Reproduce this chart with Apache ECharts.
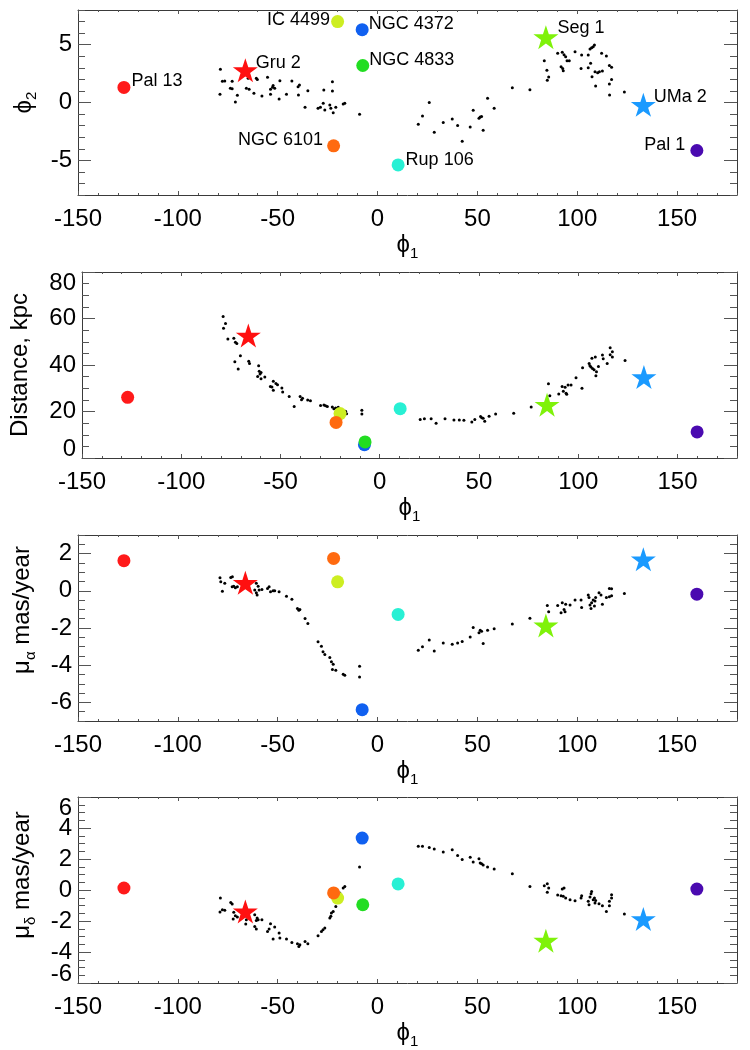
<!DOCTYPE html>
<html><head><meta charset="utf-8">
<script src="https://cdn.jsdelivr.net/npm/echarts@6/dist/echarts.min.js"></script>
<style>html,body{margin:0;padding:0;background:#fff}#c{width:750px;height:1050px}</style>
</head><body><div id="c"></div>
<script>
// ---------------- DATA ----------------
const xTickValues = [-150, -100, -50, 0, 50, 100, 150];
const yTickValuesPhi2 = [-5, 0, 5];
const yTickValuesDist = [0, 20, 40, 60, 80];
const yTickValuesPmra = [-6, -4, -2, 0, 2];
const yTickValuesPmdec = [-6, -4, -2, 0, 2, 4, 6];

// objects (draw order)
const objectNames = ['Pal 13', 'Gru 2', 'IC 4499', 'NGC 6101', 'NGC 4372', 'NGC 4833', 'Rup 106', 'Seg 1', 'UMa 2', 'Pal 1'];
const objectIsDwarf = [false, true, false, false, false, false, false, true, true, false];
const objectPhi1 = [-127.0, -66.2, -20.0, -22.0, -7.7, -7.4, 10.3, 84.3, 133.1, 159.9];
const objectPhi2 = [1.3, 2.8, 7.0, -3.75, 6.3, 3.2, -5.4, 5.65, -0.2, -4.15];
const objectDist = [26.1, 52.7, 19.1, 15.3, 5.7, 6.9, 21.2, 22.9, 34.8, 11.2];
const objectPmra = [1.62, 0.43, 0.48, 1.74, -6.39, null, -1.27, -1.86, 1.69, -0.18];
const objectPmdec = [0.13, -1.38, -0.52, -0.19, 3.35, -0.95, 0.39, -3.27, -1.87, 0.06];

// stream members [phi1, value]
const streamPhi2 = [
[-78.7,2.87],[-77.7,1.83],[-76.5,1.86],[-78.9,0.71],[-72.8,1.83],[-73.7,1.23],[-72.8,1.2],[-70.2,0.62],[-71.2,0.04],
[-65.7,1.23],[-64.8,2.09],[-60.7,2.09],[-60.2,2.0],[-64.3,1.14],[-61.9,0.79],[-57.9,0.56],[-55.1,2.18],[-53.6,1.14],
[-53.6,0.71],[-52.3,1.48],[-51.5,1.23],[-52.6,1.31],[-48.9,1.89],[-49.3,0.3],[-45.6,0.71],[-42.9,1.86],[-39.8,1.37],
[-39.1,1.52],[-39.6,0.65],[-34.9,1.02],[-36.3,-0.42],[-29.8,-0.5],[-28.6,-0.42],[-27.2,-0.07],[-26.9,1.08],[-26.4,-0.65],
[-23.9,-0.22],[-23.4,-0.5],[-22.6,1.8],[-22.6,1.0],[-22.2,-0.88],[-20.9,-0.42],[-17.2,-0.13],[-16.4,-0.07],[-9.0,-1.02],
[20.4,-1.89],[22.5,-1.17],[25.9,0.0],[28.4,-2.58],[32.9,-1.74],[37.4,-1.43],[40.1,-1.98],[42.4,-3.36],[46.4,-2.12],
[47.9,-0.68],[50.8,-1.37],[51.4,-1.25],[52.1,-1.22],[52.9,-2.41],[55.1,0.36],[58.4,-0.5],[67.5,1.28],[76.3,1.11],
[83.5,3.62],[84.8,2.78],[85.7,2.2],[85.0,1.92],[90.2,4.25],[92.5,4.34],[93.4,4.14],[94.2,3.96],[94.9,3.62],[96.0,3.62],
[91.9,3.1],[92.7,2.95],[93.0,2.75],[98.9,4.4],[102.2,4.11],[101.9,2.93],[105.5,4.11],[105.5,3.01],[106.7,3.39],[106.4,4.63],
[107.2,4.74],[108.0,4.83],[108.6,4.97],[107.4,2.23],[108.9,2.67],[110.2,2.58],[111.1,2.67],[112.6,2.72],[112.2,4.25],
[114.6,4.02],[116.1,3.19],[117.2,3.04],[116.1,1.6],[117.2,2.0],[109.2,1.43],[116.2,0.65],[123.6,0.91]
];
const streamDist = [
[-78.9,60.9],[-77.7,57.8],[-78.7,55.8],[-76.5,51.2],[-73.5,51.5],[-72.7,49.8],[-72.0,49.2],[-70.2,44.0],[-73.0,41.4],
[-71.3,38.3],[-66.0,41.6],[-65.6,40.6],[-61.0,39.7],[-60.7,37.3],[-59.8,36.8],[-60.3,36.1],[-61.5,35.1],[-59.8,34.1],
[-57.9,34.8],[-55.1,30.8],[-54.3,30.5],[-53.6,29.1],[-53.6,33.0],[-52.3,32.0],[-51.5,31.5],[-49.3,30.1],[-48.9,28.4],
[-45.6,26.5],[-43.1,22.1],[-40.1,26.5],[-39.4,25.1],[-38.9,25.7],[-36.3,24.9],[-34.9,24.6],[-29.8,22.6],[-28.1,22.8],
[-27.3,22.5],[-26.4,22.2],[-23.9,21.9],[-23.1,21.2],[-22.2,21.5],[-21.4,20.5],[-20.9,21.8],[-17.2,20.1],[-16.7,19.0],
[-9.0,20.5],[-9.0,18.9],
[20.4,16.6],[22.5,16.9],[25.9,16.9],[28.4,14.9],[32.9,16.9],[37.4,16.3],[40.1,16.3],[42.4,16.2],[46.4,15.5],[47.9,16.6],
[50.8,17.8],[51.4,17.3],[52.1,17.1],[52.9,15.8],[55.1,18.0],[58.4,18.9],[67.5,19.3],[76.3,21.9],[85.0,31.9],[85.7,26.8],
[90.2,27.5],[91.9,30.7],[92.5,28.7],[93.4,30.4],[93.9,27.9],[94.2,27.4],[94.9,31.4],[96.4,31.4],[98.9,34.5],[101.9,30.0],
[102.2,38.8],[105.5,40.6],[105.9,39.7],[106.4,39.1],[106.9,42.9],[107.2,38.5],[108.0,38.0],[108.6,43.4],[108.9,35.4],
[109.2,37.1],[110.2,39.4],[112.2,44.3],[112.6,42.7],[114.6,40.6],[116.1,47.4],[116.1,44.4],[117.2,45.7],[117.2,43.4],
[123.6,41.9]
];
const streamPmra = [
[-78.9,0.70],[-78.5,0.49],[-77.7,-0.02],[-76.5,0.40],[-73.5,0.72],[-72.7,0.76],[-72.8,0.22],[-72.0,0.25],[-70.2,0.22],
[-71.2,0.16],[-65.7,0.25],[-64.3,0.13],[-61.5,0.04],[-60.7,-0.11],[-60.3,-0.23],[-60.7,0.40],[-59.8,0.25],[-59.3,0.04],
[-57.9,0.07],[-55.1,0.13],[-54.3,0.22],[-53.6,-0.05],[-52.3,0.0],[-51.5,0.0],[-49.3,-0.05],[-45.6,-0.29],[-42.9,-0.45],
[-40.1,-0.95],[-39.4,-1.04],[-38.9,-1.0],[-36.3,-1.49],[-34.9,-1.76],[-29.8,-2.74],[-28.1,-2.98],[-27.3,-3.28],[-26.4,-3.43],
[-23.9,-3.59],[-23.1,-3.82],[-22.2,-3.95],[-22.6,-4.23],[-20.9,-4.27],[-17.2,-4.49],[-16.4,-4.54],[-9.0,-4.06],[-9.0,-4.63],
[20.4,-3.19],[22.5,-3.01],[25.9,-2.65],[28.4,-3.23],[32.9,-2.8],[37.4,-2.87],[40.1,-2.8],[42.4,-2.73],[46.4,-2.48],
[47.9,-1.97],[50.8,-2.26],[51.4,-2.12],[52.1,-2.17],[52.9,-2.83],[55.1,-2.12],[58.4,-2.04],[67.5,-1.78],[76.3,-1.47],
[85.0,-0.79],[85.7,-1.13],[90.2,-0.79],[91.9,-1.18],[92.5,-0.64],[93.4,-1.0],[93.9,-1.13],[94.2,-0.72],[96.4,-0.77],
[98.9,-0.5],[101.9,-0.5],[102.2,-0.9],[105.5,-0.23],[105.9,-0.36],[106.4,-0.77],[106.9,-0.95],[107.2,-0.64],[108.0,-0.5],
[108.6,-0.82],[108.9,-0.55],[109.2,-0.36],[110.9,-0.11],[112.6,-0.72],[114.6,-0.36],[116.1,0.13],[117.2,0.11],
[116.1,-0.32],[117.2,-0.27],[111.9,-0.23],[123.6,-0.14]
];
const streamPmdec = [
[-78.7,-0.52],[-78.9,-1.42],[-77.7,-1.27],[-76.5,-1.31],[-73.5,-0.80],[-72.8,-0.91],[-72.0,-1.44],[-72.3,-1.87],[-71.2,-1.66],
[-70.2,-1.74],[-66.0,-2.20],[-65.7,-1.92],[-61.5,-1.59],[-60.7,-1.96],[-60.3,-1.81],[-59.8,-1.92],[-61.5,-2.35],[-60.7,-2.52],
[-57.9,-1.92],[-55.1,-2.67],[-54.3,-2.52],[-53.6,-2.17],[-52.3,-3.16],[-51.5,-2.39],[-49.3,-2.78],[-48.9,-3.10],[-45.6,-3.16],
[-42.9,-3.38],[-40.1,-3.46],[-39.4,-3.64],[-38.9,-3.53],[-36.3,-3.33],[-34.9,-3.46],[-29.8,-2.95],[-28.1,-2.67],[-27.3,-2.56],
[-26.4,-2.45],[-23.9,-1.81],[-23.4,-1.70],[-23.1,-1.49],[-22.2,-1.38],[-20.9,-1.06],[-20.2,-0.73],[-17.2,0.13],[-16.4,0.23],
[-18.9,-0.20],[-9.0,1.48],
[20.4,2.82],[22.5,2.82],[25.9,2.75],[28.4,2.64],[32.9,2.45],[37.4,2.60],[40.1,2.23],[42.4,1.96],[46.4,2.11],[47.9,1.80],
[50.8,2.02],[51.4,1.74],[52.1,1.70],[52.9,1.61],[55.1,1.48],[58.4,1.35],[67.5,1.05],[76.3,0.23],[83.5,0.28],[85.0,0.41],
[85.7,0.13],[85.0,-0.15],[90.2,-0.32],[91.9,-0.37],[92.5,0.06],[93.4,0.13],[93.0,-0.41],[94.2,-0.52],[96.4,-0.63],[98.9,-0.69],
[101.9,-0.52],[102.2,-0.37],[105.5,-0.73],[105.9,-0.95],[106.4,-0.45],[106.9,-0.24],[107.2,-0.09],[108.0,-0.63],[108.6,-0.52],
[108.9,-0.84],[109.2,-0.67],[110.9,-0.88],[112.6,-1.01],[114.6,-1.38],[116.1,-0.73],[116.1,-1.01],[117.2,-0.30],[117.2,-0.52],
[123.6,-1.55]
];

// ---------------- STYLE ----------------
const objectColors = ['#ff1a1a', '#ff1010', '#cdee22', '#ff6a10', '#1060f0', '#22dd22', '#28f0d4', '#7ff20a', '#1a9aff', '#4a0ab0'];
const labelSide = ['right', 'right', 'left', 'left', 'right', 'right', 'right', 'right', 'right', 'left'];
const labelDist = [1, -2, 1, 4, 0, 0, 1, -1, -2, 5];
const labelDy = [-6, -7, -2, -6, -6, -5, -5, -9, -8, -5];

const FONT = 'Liberation Sans, Arial, Helvetica, sans-serif';
const STAR = 'path://M50 0 L61.23 34.55 L97.55 34.55 L68.16 55.9 L79.39 90.45 L50 69.1 L20.61 90.45 L31.84 55.9 L2.45 34.55 L38.77 34.55 Z';
const AXIS_COLOR = '#3a3a3a';
const TICK_COLOR = '#555';
const PHI = '\u03d5';

const gridTops = [10, 272, 535, 797];
const gridHeights = [185, 186, 186, 186];

const subRich = {
  g: { fontSize: 24, fontFamily: FONT, color: '#000' },
  s: { fontSize: 15, fontFamily: FONT, color: '#000', padding: [16, 0, 0, 0] },
  t: { fontSize: 24, fontFamily: FONT, color: '#000' }
};

const panels = [
  { min: -8, max: 8, ticks: yTickValuesPhi2, minor: 1, name: '{g|' + PHI + '}{s|2}', gap: 37, shift: 0, edge: false, stream: streamPhi2, obj: objectPhi2, labels: true },
  { min: 0, max: 80, ticks: yTickValuesDist, minor: 5, name: 'Distance, kpc', gap: 50, shift: 0, edge: true, stream: streamDist, obj: objectDist, labels: false },
  { min: -7, max: 3, ticks: yTickValuesPmra, minor: 0.5, name: '{g|\u03bc}{s|\u03b1}{t| mas/year}', gap: 40, shift: 36, edge: false, stream: streamPmra, obj: objectPmra, labels: false },
  { min: -6, max: 6, ticks: yTickValuesPmdec, minor: 0.5, name: '{g|\u03bc}{s|\u03b4}{t| mas/year}', gap: 40, shift: 30, edge: true, stream: streamPmdec, obj: objectPmdec, labels: false }
];

const grids = [], xAxes = [], yAxes = [], series = [];

panels.forEach((p, gi) => {
  grids.push({ left: 78, width: 659, top: gridTops[gi], height: gridHeights[gi], containLabel: false });

  const baseX = { type: 'value', gridIndex: gi, min: -150, max: 180, splitLine: { show: false }, axisPointer: { show: false } };
  xAxes.push(Object.assign({}, baseX, {
    position: 'bottom',
    axisLine: { show: true, onZero: false, lineStyle: { color: AXIS_COLOR, width: 1 } },
    axisTick: { show: true, inside: true, length: 4, customValues: xTickValues, lineStyle: { color: TICK_COLOR } },
    axisLabel: { show: true, customValues: xTickValues, margin: 12, fontSize: 24, fontFamily: FONT, color: '#000', showMinLabel: true },
    name: '{g|' + PHI + '}{s|1}', nameLocation: 'middle', nameGap: 35,
    nameTextStyle: { fontSize: 24, fontFamily: FONT, color: '#000', rich: subRich }
  }));
  xAxes.push(Object.assign({}, baseX, {
    position: 'bottom', interval: 10,
    axisLine: { show: false, onZero: false },
    axisTick: { show: true, inside: true, length: 2, lineStyle: { color: TICK_COLOR } },
    axisLabel: { show: false }
  }));
  xAxes.push(Object.assign({}, baseX, {
    position: 'top',
    axisLine: { show: true, onZero: false, lineStyle: { color: AXIS_COLOR, width: 1 } },
    axisTick: { show: true, inside: true, length: 4, customValues: xTickValues, lineStyle: { color: TICK_COLOR } },
    axisLabel: { show: false }
  }));
  xAxes.push(Object.assign({}, baseX, {
    position: 'top', interval: 10,
    axisLine: { show: false, onZero: false },
    axisTick: { show: true, inside: true, length: 2, lineStyle: { color: TICK_COLOR } },
    axisLabel: { show: false }
  }));

  // labels: inner ones on the major axis, edge ones (shifted inward) on the minor axis
  const innerLabels = p.edge ? p.ticks.filter(v => v !== p.min && v !== p.max) : p.ticks;
  const edgeLabels = p.edge ? p.ticks.filter(v => v === p.min || v === p.max) : [];

  const baseY = { type: 'value', gridIndex: gi, min: p.min, max: p.max, splitLine: { show: false }, axisPointer: { show: false } };
  yAxes.push(Object.assign({}, baseY, {
    position: 'left',
    axisLine: { show: true, onZero: false, lineStyle: { color: AXIS_COLOR, width: 1 } },
    axisTick: { show: true, inside: true, length: 13, customValues: p.ticks, lineStyle: { color: TICK_COLOR } },
    axisLabel: {
      show: true, customValues: innerLabels, margin: 6, fontSize: 24, fontFamily: FONT, color: '#000',
      showMinLabel: true, showMaxLabel: true
    },
    name: p.name, nameLocation: 'middle', nameGap: p.gap, nameRotate: 90,
    nameTextStyle: { fontSize: 24, fontFamily: FONT, color: '#000', rich: subRich, padding: [0, 0, 0, p.shift] }
  }));
  yAxes.push(Object.assign({}, baseY, {
    position: 'left', interval: p.minor,
    axisLine: { show: false, onZero: false },
    axisTick: { show: true, inside: true, length: 7, lineStyle: { color: TICK_COLOR } },
    axisLabel: edgeLabels.length ? {
      show: true, customValues: edgeLabels, margin: 6, fontSize: 24, fontFamily: FONT, color: '#000',
      showMinLabel: true, showMaxLabel: true,
      formatter: (v) => (v === p.min ? '{lo|' + v + '}' : '{hi|' + v + '}'),
      rich: {
        lo: { fontSize: 24, fontFamily: FONT, color: '#000', padding: [0, 0, 18, 0] },
        hi: { fontSize: 24, fontFamily: FONT, color: '#000', padding: [22, 0, 0, 0] }
      }
    } : { show: false }
  }));
  yAxes.push(Object.assign({}, baseY, {
    position: 'right',
    axisLine: { show: true, onZero: false, lineStyle: { color: AXIS_COLOR, width: 1 } },
    axisTick: { show: true, inside: true, length: 13, customValues: p.ticks, lineStyle: { color: TICK_COLOR } },
    axisLabel: { show: false }
  }));
  yAxes.push(Object.assign({}, baseY, {
    position: 'right', interval: p.minor,
    axisLine: { show: false, onZero: false },
    axisTick: { show: true, inside: true, length: 7, lineStyle: { color: TICK_COLOR } },
    axisLabel: { show: false }
  }));

  series.push({
    type: 'scatter', xAxisIndex: gi * 4, yAxisIndex: gi * 4,
    data: p.stream, symbol: 'circle', symbolSize: 3,
    itemStyle: { color: '#000', opacity: 1 }, silent: true, z: 2
  });

  const objData = [];
  objectNames.forEach((nm, i) => {
    if (p.obj[i] === null || p.obj[i] === undefined) return;
    const item = {
      name: nm,
      value: [objectPhi1[i], p.obj[i]],
      symbol: objectIsDwarf[i] ? STAR : 'circle',
      symbolSize: objectIsDwarf[i] ? [25, 24] : 13,
      itemStyle: { color: objectColors[i], opacity: 1 }
    };
    if (p.labels) {
      item.label = {
        show: true, formatter: '{b}', position: labelSide[i], distance: labelDist[i],
        offset: [0, labelDy[i]], fontSize: 18, fontFamily: FONT, color: '#000', opacity: 1
      };
    }
    objData.push(item);
  });
  series.push({
    type: 'scatter', xAxisIndex: gi * 4, yAxisIndex: gi * 4,
    data: objData, silent: true, z: 3,
    itemStyle: { opacity: 1 },
    label: { show: false }
  });
});

const chart = echarts.init(document.getElementById('c'), null, { renderer: 'canvas', width: 750, height: 1050 });
chart.setOption({
  animation: false,
  backgroundColor: '#fff',
  grid: grids,
  xAxis: xAxes,
  yAxis: yAxes,
  series: series
});
</script>
</body></html>
